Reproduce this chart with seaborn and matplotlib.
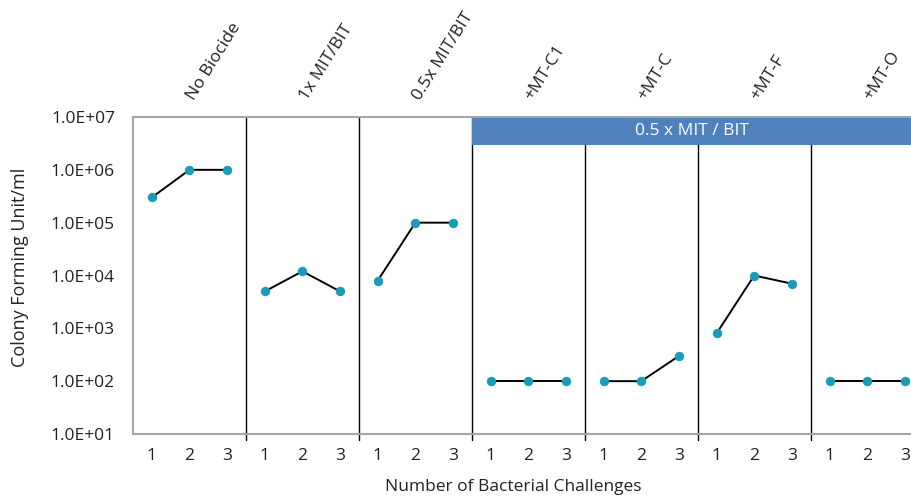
import matplotlib
matplotlib.use("Agg")
import matplotlib.pyplot as plt
import seaborn as sns
import pandas as pd
import numpy as np

sns.set_style("white")
plt.rcParams['font.family'] = ['Open Sans', 'DejaVu Sans']

groups = ["No Biocide", "1x MIT/BIT", "0.5x MIT/BIT", "+MT-C1", "+MT-C", "+MT-F", "+MT-O"]
challenges = [1, 2, 3]
values = [
    [3.0e5, 1.0e6, 1.0e6],
    [5.0e3, 1.2e4, 5.0e3],
    [8.0e3, 1.0e5, 1.0e5],
    [1.0e2, 1.0e2, 1.0e2],
    [1.0e2, 1.0e2, 3.0e2],
    [8.0e2, 1.0e4, 7.0e3],
    [1.0e2, 1.0e2, 1.0e2],
]
yticks = [1e1, 1e2, 1e3, 1e4, 1e5, 1e6, 1e7]
ytick_labels = ["1.0E+01", "1.0E+02", "1.0E+03", "1.0E+04", "1.0E+05", "1.0E+06", "1.0E+07"]
banner_text = "0.5 x MIT / BIT"

rows = []
for gi, g in enumerate(groups):
    for ci, c in enumerate(challenges):
        rows.append({"group": g, "pos": gi * 3 + c, "challenge": c, "cfu": values[gi][ci]})
df = pd.DataFrame(rows)

teal = "#1a9cb8"
gray = "#a6a6a6"
txt = "#222222"

fig = plt.figure(figsize=(9.12, 4.99), dpi=100)
ax = fig.add_axes([133 / 912, 1 - 434 / 499, 1 - 133 / 912, (434 - 117) / 499])

sns.lineplot(data=df, x="pos", y="cfu", units="group", estimator=None, color="black",
             lw=1.4, marker="o", markersize=6, markerfacecolor=teal, markeredgecolor=teal,
             ax=ax, legend=False, zorder=3)

ax.set_yscale("log")
ax.set_ylim(1e1, 1e7)
ax.set_xlim(0.5, 0.5 + (912 - 133) / 37.65)
ax.set_yticks(yticks)
ax.set_yticklabels(ytick_labels, fontsize=12.5, color=txt)
ax.yaxis.set_minor_locator(matplotlib.ticker.NullLocator())
ax.set_xticks(df["pos"].tolist())
ax.set_xticklabels([str(c) for c in df["challenge"]], fontsize=12.5, color=txt)
ax.tick_params(axis="x", length=0, pad=10)
ax.tick_params(axis="y", which="major", length=10, direction="inout", color=gray, width=1, pad=8)

for s in ["left", "bottom", "top"]:
    ax.spines[s].set_color(gray)
    ax.spines[s].set_linewidth(1.5)
ax.spines["right"].set_visible(False)

for b in range(1, len(groups)):
    ax.axvline(b * 3 + 0.5, ymin=-0.02, ymax=1.0, color="black", lw=1, clip_on=False, zorder=2)

# banner over the last four groups
x0 = 3 * 3 + 0.5
x1 = ax.get_xlim()[1]
ax.fill_between([x0, x1], 10 ** 6.47, 10 ** 6.985, color="#4f81bd", zorder=4, lw=0)
ax.text((x0 + x1) / 2, 10 ** 6.73, banner_text, color="white", fontsize=12.5,
        ha="center", va="center", zorder=5)

for gi, g in enumerate(groups):
    ax.text(gi * 3 + 2.2, 10 ** 7.27, g, rotation=58, rotation_mode="anchor",
            ha="left", va="bottom", fontsize=12.5, color=txt,
            transform=ax.transData)

ax.set_xlabel("Number of Bacterial Challenges", fontsize=12.5, color=txt)
ax.set_ylabel("Colony Forming Unit/ml", fontsize=13, color=txt)
ax.xaxis.set_label_coords((513 - 133) / (912 - 133), -0.143)
ax.yaxis.set_label_coords((29 - 133) / (912 - 133), (434 - 267) / 317)

fig.savefig("out.png", dpi=100)
